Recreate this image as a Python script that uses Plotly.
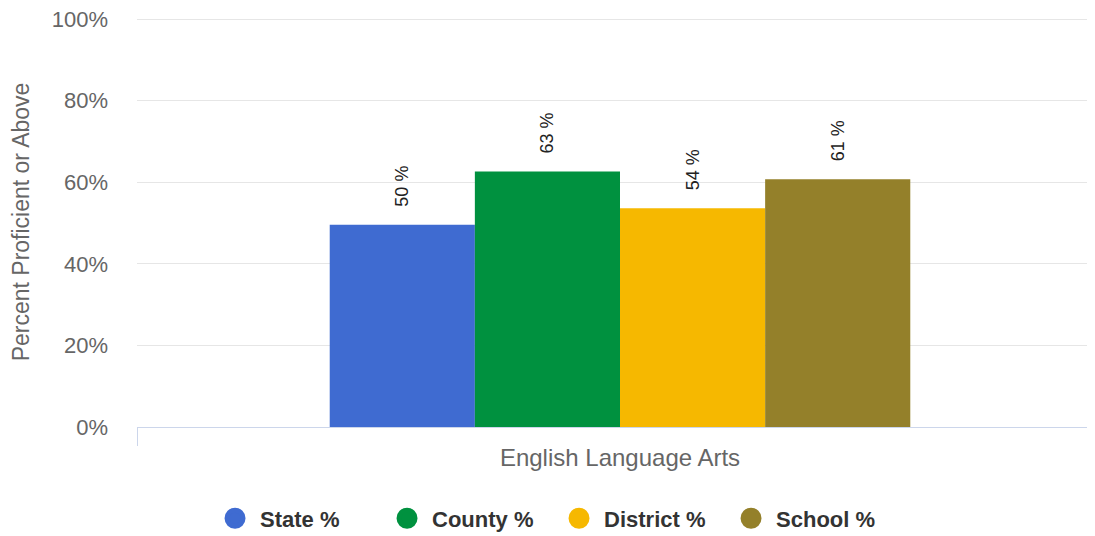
import plotly.graph_objects as go

categories = ["English Language Arts"]
series_names = ["State %", "County %", "District %", "School %"]
series_values = [49.6, 62.6, 53.6, 60.7]
series_colors = ["#3f6bd1", "#00913f", "#f6b800", "#94802a"]
y_ticks = [0, 20, 40, 60, 80, 100]
y_tick_labels = ["0%", "20%", "40%", "60%", "80%", "100%"]

FONT = "Liberation Sans, Arial, sans-serif"
NB = "\u00a0"

fig = go.Figure()
for name, val, col in zip(series_names, series_values, series_colors):
    fig.add_trace(go.Bar(
        x=categories, y=[val], name=name,
        marker=dict(color=col, line=dict(width=0)),
        text=[NB * 3 + f"{round(val)} %"], textposition="outside", textangle=-90,
        textfont=dict(family=FONT, size=18, color="#222222"),
        cliponaxis=False, showlegend=False,
    ))
    fig.add_trace(go.Scatter(
        x=[None], y=[None], mode="markers", name=name,
        marker=dict(symbol="circle", size=16, color=col, line=dict(width=5, color=col)),
    ))

fig.update_layout(
    width=1095, height=536,
    margin=dict(l=129, r=0, t=9, b=117, autoexpand=False),
    paper_bgcolor="white", plot_bgcolor="white",
    barmode="group", bargap=0.399, bargroupgap=0,
    font=dict(family=FONT, color="#666666"),
    showlegend=True,
    legend=dict(orientation="h", x=0.0756, xanchor="left", y=-0.223, yanchor="middle",
                font=dict(family=FONT, size=22, color="#333333", weight="bold"),
                itemwidth=40, traceorder="normal",
                entrywidth=117, entrywidthmode="pixels"),
    xaxis=dict(
        range=[-0.5, 0.5], automargin=False,
        showgrid=False, showline=True, linecolor="#ccd6eb", linewidth=1,
        ticks="outside", tickson="boundaries", ticklen=18, tickcolor="#ccd6eb",
        ticklabelstandoff=9,
        tickfont=dict(family=FONT, size=24, color="#666666"),
    ),
    yaxis=dict(
        range=[0, 100.5], tickvals=y_ticks, ticktext=y_tick_labels, automargin=False,
        showgrid=True, gridcolor="#e6e6e6", gridwidth=1, zeroline=False,
        ticklabeloverflow="allow",
        tickfont=dict(family=FONT, size=22, color="#666666"),
        ticklabelstandoff=28,
        title=dict(text="Percent Proficient or Above", standoff=28,
                   font=dict(family=FONT, size=23, color="#666666")),
    ),
)

fig.write_html("out.html")
